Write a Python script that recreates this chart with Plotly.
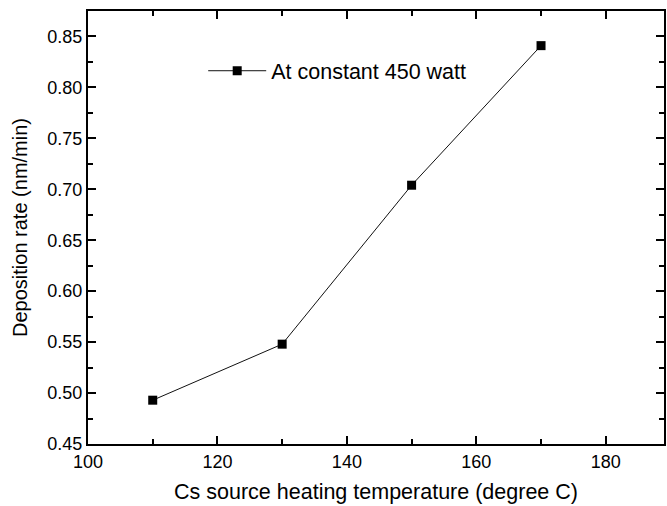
import plotly.graph_objects as go

# Cs source heating temperature (degree C) and measured deposition rate (nm/min)
temperature = [110, 130, 150, 170]
deposition_rate = [0.493, 0.548, 0.704, 0.841]
series_name = "At constant 450 watt"

x_range = [100, 189]
y_range = [0.45, 0.875]

FONT = "Liberation Sans, Arial"

fig = go.Figure()
fig.add_trace(go.Scatter(
    x=temperature, y=deposition_rate, name=series_name,
    mode="lines+markers",
    line=dict(color="#111111", width=1),
    marker=dict(symbol="square", size=9, color="black"),
))

axis_common = dict(
    showgrid=False, zeroline=False,
    showline=True, linecolor="black", linewidth=2,
    ticks="inside", ticklen=8, tickwidth=1.5, tickcolor="black",
    mirror="ticks",
    tickfont=dict(family=FONT, size=18, color="black"),
)

fig.update_xaxes(
    range=x_range, dtick=20, tick0=100,
    minor=dict(ticks="inside", ticklen=5, dtick=10, tickcolor="black", tickwidth=1.5),
    title=dict(text="Cs source heating temperature (degree C)",
               font=dict(family=FONT, size=21.5, color="black"),
               standoff=13),
    **axis_common,
)
fig.update_yaxes(
    range=y_range, dtick=0.05, tick0=0.45, tickformat=".2f",
    minor=dict(ticks="inside", ticklen=5, dtick=0.025, tickcolor="black", tickwidth=1.5),
    title=dict(text="Deposition rate (nm/min)",
               font=dict(family=FONT, size=20, color="black"),
               standoff=14),
    **axis_common,
)

fig.update_layout(
    width=667, height=506,
    margin=dict(l=88, r=1, t=11, b=62),
    paper_bgcolor="white", plot_bgcolor="white",
    showlegend=True,
    legend=dict(
        x=0.2, y=0.862, xanchor="left", yanchor="middle",
        itemwidth=58,
        bgcolor="rgba(0,0,0,0)",
        font=dict(family=FONT, size=21.5, color="black"),
    ),
)

fig.write_html("out.html")
